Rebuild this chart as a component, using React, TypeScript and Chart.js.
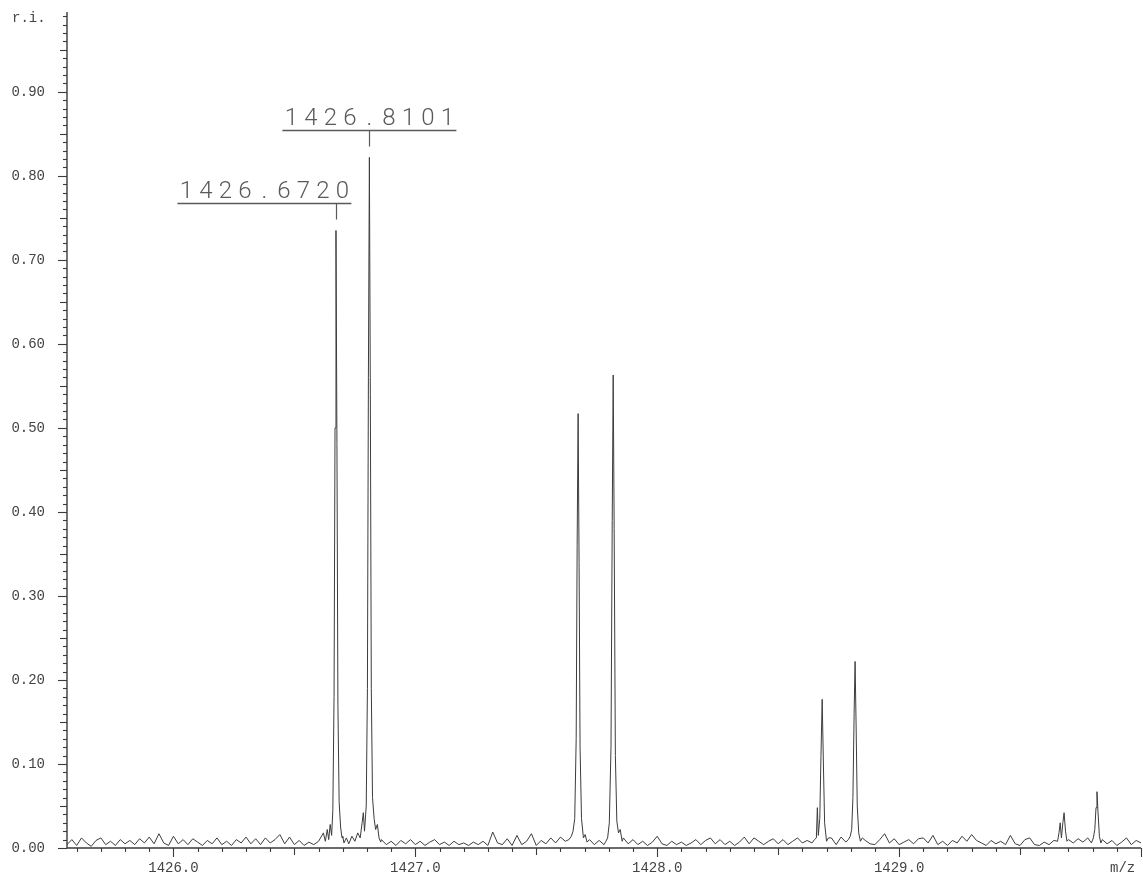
import { useEffect, useRef } from 'react';
import { Chart, registerables } from 'chart.js';

Chart.register(...registerables);

// Baseline trace, sampled every 0.02 m/z from the left edge of the window
const noiseStartMz = 1425.56;
const noiseStepMz = 0.02;
const noiseLevels = [
  0.004, 0.010, 0.003, 0.012, 0.006, 0.002, 0.009, 0.012, 0.004, 0.008,
  0.003, 0.010, 0.005, 0.009, 0.004, 0.011, 0.006, 0.013, 0.005, 0.017,
  0.006, 0.003, 0.014, 0.005, 0.010, 0.004, 0.011, 0.007, 0.003, 0.009,
  0.005, 0.012, 0.004, 0.008, 0.003, 0.010, 0.006, 0.013, 0.005, 0.011,
  0.004, 0.012, 0.006, 0.010, 0.016, 0.005, 0.013, 0.004, 0.009, 0.003,
  0.007, 0.004, 0.008, 0.018, 0.010, 0.012, 0.006, 0.014, 0.008, 0.015,
  0.020, 0.030, 0.040, 0.030, 0.020, 0.010, 0.004, 0.008, 0.003, 0.009,
  0.005, 0.010, 0.004, 0.008, 0.003, 0.007, 0.010, 0.004, 0.007, 0.003,
  0.008, 0.004, 0.006, 0.003, 0.007, 0.004, 0.008, 0.003, 0.019, 0.006,
  0.004, 0.011, 0.003, 0.015, 0.004, 0.008, 0.017, 0.003, 0.009, 0.005,
  0.012, 0.006, 0.013, 0.008, 0.015, 0.030, 0.040, 0.020, 0.010, 0.004,
  0.009, 0.010, 0.030, 0.040, 0.020, 0.012, 0.005, 0.010, 0.004, 0.008,
  0.003, 0.007, 0.014, 0.005, 0.003, 0.008, 0.004, 0.007, 0.003, 0.006,
  0.010, 0.004, 0.009, 0.012, 0.005, 0.010, 0.004, 0.008, 0.003, 0.007,
  0.013, 0.005, 0.012, 0.008, 0.004, 0.008, 0.011, 0.005, 0.010, 0.004,
  0.008, 0.012, 0.006, 0.009, 0.010, 0.030, 0.050, 0.020, 0.012, 0.004,
  0.013, 0.007, 0.020, 0.060, 0.020, 0.009, 0.005, 0.004, 0.010, 0.017,
  0.006, 0.011, 0.004, 0.007, 0.010, 0.005, 0.011, 0.012, 0.006, 0.015,
  0.004, 0.008, 0.003, 0.009, 0.006, 0.014, 0.008, 0.016, 0.009, 0.006,
  0.003, 0.009, 0.005, 0.008, 0.004, 0.015, 0.005, 0.003, 0.010, 0.012,
  0.004, 0.003, 0.007, 0.004, 0.009, 0.020, 0.025, 0.010, 0.006, 0.011,
  0.007, 0.012, 0.015, 0.030, 0.010, 0.005, 0.009, 0.003, 0.007, 0.012,
  0.004, 0.009, 0.006,
];

// Isotope peaks as [m/z, relative intensity] profiles
const peak1 = [
  [1426.628, 0.008], [1426.636, 0.022], [1426.642, 0.010], [1426.648, 0.028],
  [1426.654, 0.015], [1426.659, 0.045], [1426.664, 0.180], [1426.668, 0.500],
  [1426.672, 0.735], [1426.676, 0.480], [1426.680, 0.170], [1426.685, 0.055],
  [1426.691, 0.025], [1426.697, 0.012],
];
const peak2 = [
  [1426.705, 0.006], [1426.715, 0.012], [1426.725, 0.005], [1426.738, 0.014],
  [1426.750, 0.008], [1426.762, 0.018], [1426.772, 0.012], [1426.780, 0.030],
  [1426.785, 0.042], [1426.790, 0.020], [1426.797, 0.050], [1426.802, 0.190],
  [1426.806, 0.560], [1426.8101, 0.822], [1426.814, 0.540], [1426.818, 0.190],
  [1426.823, 0.060], [1426.830, 0.034], [1426.836, 0.022], [1426.843, 0.028],
  [1426.850, 0.012], [1426.857, 0.007],
];
const peak3 = [
  [1427.635, 0.010], [1427.645, 0.014], [1427.652, 0.020], [1427.659, 0.035],
  [1427.665, 0.130], [1427.669, 0.360], [1427.673, 0.517], [1427.677, 0.340],
  [1427.681, 0.120], [1427.687, 0.035], [1427.695, 0.012], [1427.702, 0.016],
  [1427.710, 0.007],
];
const peak4 = [
  [1427.780, 0.004], [1427.788, 0.008], [1427.795, 0.012], [1427.802, 0.030],
  [1427.809, 0.120], [1427.814, 0.390], [1427.818, 0.563], [1427.822, 0.380],
  [1427.827, 0.110], [1427.833, 0.032], [1427.840, 0.018], [1427.847, 0.022],
  [1427.855, 0.008],
];
const peak5 = [
  [1428.640, 0.006], [1428.650, 0.010], [1428.658, 0.012], [1428.662, 0.048],
  [1428.666, 0.015], [1428.672, 0.035], [1428.677, 0.110], [1428.682, 0.177],
  [1428.687, 0.100], [1428.692, 0.030], [1428.700, 0.008], [1428.708, 0.012],
];
const peak6 = [
  [1428.790, 0.010], [1428.798, 0.014], [1428.804, 0.022], [1428.809, 0.060],
  [1428.814, 0.160], [1428.818, 0.222], [1428.822, 0.150], [1428.827, 0.050],
  [1428.833, 0.018], [1428.840, 0.008], [1428.848, 0.012],
];
const peak7 = [
  [1429.655, 0.008], [1429.661, 0.018], [1429.666, 0.030], [1429.671, 0.012],
  [1429.677, 0.030], [1429.682, 0.042], [1429.688, 0.020], [1429.694, 0.008],
  [1429.700, 0.010],
];
const peak8 = [
  [1429.795, 0.006], [1429.803, 0.012], [1429.809, 0.022], [1429.814, 0.048],
  [1429.818, 0.067], [1429.822, 0.044], [1429.828, 0.014], [1429.834, 0.006],
  [1429.840, 0.010],
];
const peakProfiles = [peak1, peak2, peak3, peak4, peak5, peak6, peak7, peak8];

// Labelled monoisotopic peaks
const annotationMz = [1426.672, 1426.8101];
const annotationLabels = ['1426.6720', '1426.8101'];

// Axis range and labelled ticks
const mzMin = 1425.56;
const mzMax = 1430.0;
const riMax = 0.995;
const yTickValues = [0, 0.1, 0.2, 0.3, 0.4, 0.5, 0.6, 0.7, 0.8, 0.9];
const yTickLabels = ['0.00', '0.10', '0.20', '0.30', '0.40', '0.50', '0.60', '0.70', '0.80', '0.90'];
const xTickValues = [1426, 1427, 1428, 1429];
const xTickLabels = ['1426.0', '1427.0', '1428.0', '1429.0'];

type Pt = { x: number; y: number };

function buildSpectrum(): Pt[] {
  const pts: Pt[] = [];
  noiseLevels.forEach((v, i) => {
    const mz = noiseStartMz + i * noiseStepMz;
    const covered = peakProfiles.some(
      (p) => mz >= p[0][0] - 0.001 && mz <= p[p.length - 1][0] + 0.001,
    );
    if (!covered) pts.push({ x: mz, y: v });
  });
  peakProfiles.forEach((p) => p.forEach(([x, y]) => pts.push({ x, y })));
  pts.sort((a, b) => a.x - b.x);
  return pts;
}

const spectrum = buildSpectrum();

const AXIS_FONT = "14px 'Liberation Mono', 'DejaVu Sans Mono', monospace";
const LABEL_FONT = "300 24px Roboto, 'DejaVu Sans', sans-serif";

const spectrumFrame = {
  id: 'spectrumFrame',
  afterDraw(chart: any) {
    const { ctx, chartArea: a } = chart;
    const xs = chart.scales.x;
    const ys = chart.scales.y;
    ctx.save();

    const seg = (x1: number, y1: number, x2: number, y2: number) => {
      ctx.beginPath();
      ctx.moveTo(x1, y1);
      ctx.lineTo(x2, y2);
      ctx.stroke();
    };

    // axis lines
    ctx.strokeStyle = '#3a3a3a';
    ctx.lineWidth = 1.4;
    ctx.beginPath();
    ctx.moveTo(a.left, a.top);
    ctx.lineTo(a.left, a.bottom);
    ctx.lineTo(a.right, a.bottom);
    ctx.stroke();

    // y ticks: every 0.01, longer at 0.05 and 0.10
    ctx.lineWidth = 1.1;
    for (let k = 0; k <= 99; k++) {
      const py = Math.round(ys.getPixelForValue(k / 100)) + 0.5;
      const len = k % 10 === 0 ? 9 : k % 5 === 0 ? 7 : 4;
      seg(a.left - len, py, a.left, py);
    }
    // x ticks: every 0.1, longer at 0.5 and whole units
    for (let k = 0; k <= 44; k++) {
      const tenth = 14256 + k;
      const px = Math.round(xs.getPixelForValue(tenth / 10)) + 0.5;
      const len = tenth % 10 === 0 ? 9 : tenth % 5 === 0 ? 7 : 4;
      seg(px, a.bottom, px, a.bottom + len);
    }

    // tick labels
    ctx.fillStyle = '#444';
    ctx.font = AXIS_FONT;
    ctx.textAlign = 'right';
    ctx.textBaseline = 'middle';
    yTickValues.forEach((v, i) => {
      ctx.fillText(yTickLabels[i], 45, ys.getPixelForValue(v));
    });
    ctx.textAlign = 'center';
    xTickValues.forEach((v, i) => {
      ctx.fillText(xTickLabels[i], xs.getPixelForValue(v), a.bottom + 20);
    });
    ctx.textAlign = 'left';
    ctx.fillText('r.i.', 12, 18);
    ctx.fillText('m/z', 1110, a.bottom + 20);

    // peak annotations: label on a bar above the apex, with a short drop line
    const apexOf = (mz: number) =>
      spectrum
        .filter((p) => Math.abs(p.x - mz) < 0.004)
        .reduce((m, p) => Math.max(m, p.y), 0);
    const width = 174;
    const pitch = 19.5;
    const pxs = annotationMz.map((mz) => xs.getPixelForValue(mz));
    ctx.strokeStyle = '#5a5a5a';
    ctx.fillStyle = '#5a5a5a';
    ctx.font = LABEL_FONT;
    ctx.textAlign = 'center';
    ctx.textBaseline = 'alphabetic';
    annotationMz.forEach((mz, i) => {
      const px = pxs[i];
      const top = ys.getPixelForValue(apexOf(mz));
      const barY = Math.round(top - 27.5) + 0.5;
      let left = px - width / 2;
      if (i + 1 < pxs.length && left + width > pxs[i + 1] - 18) {
        left = pxs[i + 1] - 18 - width;
      }
      ctx.lineWidth = 1.5;
      seg(left, barY, left + width, barY);
      ctx.lineWidth = 1.2;
      seg(Math.round(px) + 0.5, barY, Math.round(px) + 0.5, barY + 16);
      const chars = annotationLabels[i].split('');
      chars.forEach((ch, j) => {
        ctx.fillText(ch, left + 9 + j * pitch, barY - 6);
      });
    });

    ctx.restore();
  },
};

export default function App() {
  const canvasRef = useRef<HTMLCanvasElement | null>(null);

  useEffect(() => {
    const canvas = canvasRef.current;
    if (!canvas) return;
    const chart = new Chart(canvas, {
      type: 'line',
      data: {
        datasets: [
          {
            data: spectrum,
            borderColor: '#3c3c3c',
            borderWidth: 1,
            pointRadius: 0,
            tension: 0,
            fill: false,
          },
        ],
      },
      options: {
        animation: false,
        responsive: false,
        devicePixelRatio: 1,
        parsing: false,
        layout: { padding: { left: 67, right: 2, top: 12, bottom: 40 } },
        plugins: {
          legend: { display: false },
          tooltip: { enabled: false },
          title: { display: false },
        },
        scales: {
          x: { type: 'linear', min: mzMin, max: mzMax, display: false },
          y: { type: 'linear', min: 0, max: riMax, display: false },
        },
      },
      plugins: [spectrumFrame],
    });
    return () => chart.destroy();
  }, []);

  return (
    <div
      style={{
        position: 'fixed',
        left: 0,
        top: 0,
        width: 1143,
        height: 888,
        background: '#fff',
      }}
    >
      <canvas ref={canvasRef} width={1143} height={888} />
    </div>
  );
}
